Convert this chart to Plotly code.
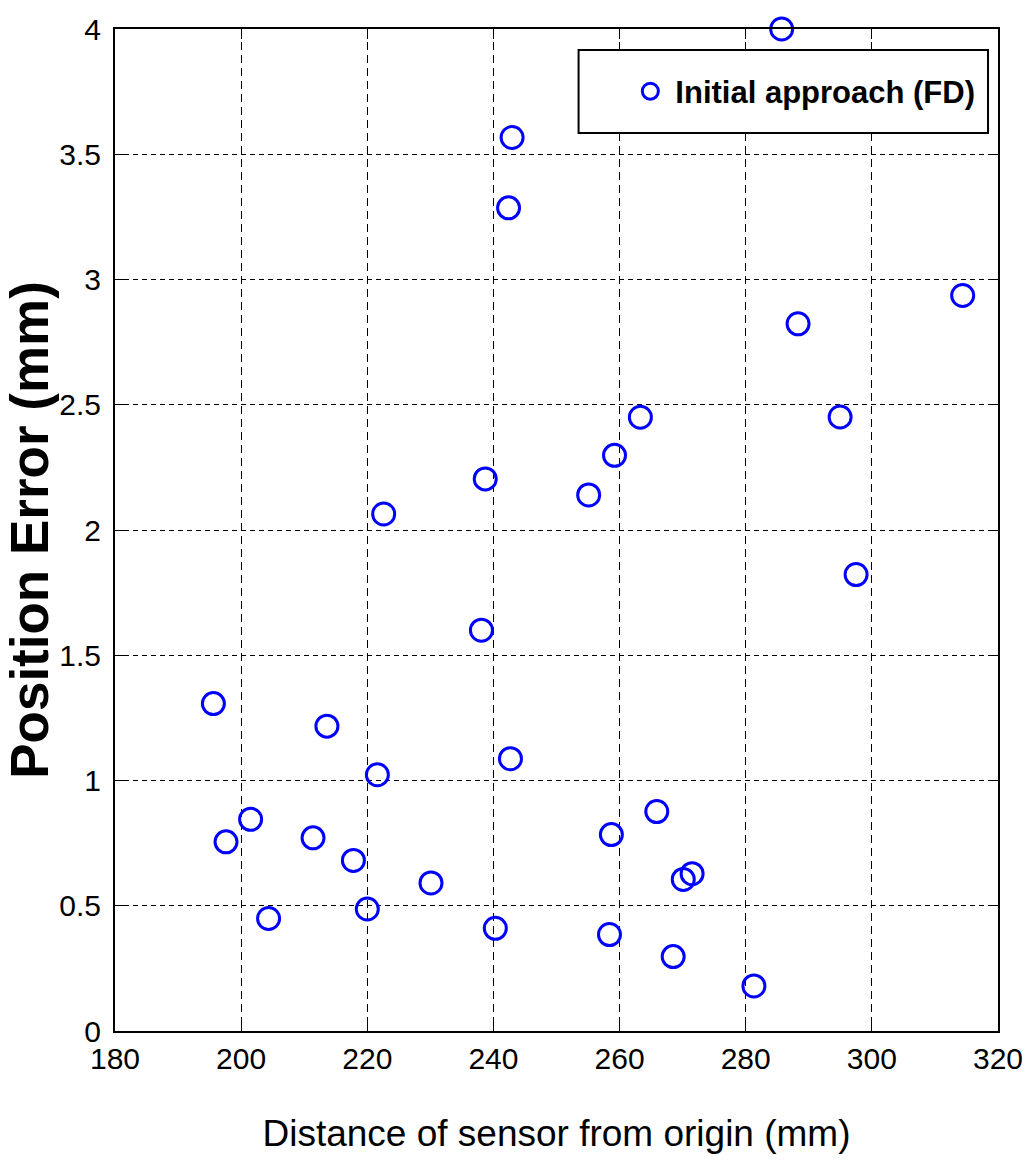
import plotly.graph_objects as go

distance_mm = [195.6, 197.6, 201.5, 204.35, 211.4, 213.6, 217.8, 220.0, 221.6, 222.6,
               230.1, 238.1, 238.7, 240.3, 242.4, 242.7, 242.96, 255.1, 258.4, 258.7,
               259.2, 263.3, 265.9, 268.5, 270.1, 271.5, 281.3, 285.7, 288.3, 294.97,
               297.5, 314.4]
position_error_mm = [1.307, 0.755, 0.845, 0.449, 0.771, 1.217, 0.681, 0.487, 1.023, 2.064,
                     0.591, 1.60, 2.204, 0.410, 3.286, 1.087, 3.567, 2.14, 0.385, 0.784,
                     2.298, 2.45, 0.876, 0.297, 0.605, 0.628, 0.18, 4.0, 2.823, 2.451,
                     1.822, 2.936]
series_name = "Initial approach (FD)"
x_ticks = [180, 200, 220, 240, 260, 280, 300, 320]
y_ticks = [0, 0.5, 1, 1.5, 2, 2.5, 3, 3.5, 4]
y_tick_labels = ["0", "0.5", "1", "1.5", "2", "2.5", "3", "3.5", "4"]

font = "Liberation Sans, Arial, sans-serif"

fig = go.Figure()
fig.add_trace(go.Scatter(
    x=distance_mm, y=position_error_mm, mode="markers", name=series_name,
    marker=dict(symbol="circle-open", size=22, color="#0000ff",
                line=dict(width=3, color="#0000ff")),
    cliponaxis=False,
))

# legend frame (paper coordinates)
fig.add_shape(type="rect", xref="paper", yref="paper",
              x0=0.525, x1=0.9887, y0=0.8962, y1=0.979,
              line=dict(color="black", width=2), fillcolor="white", layer="above")

fig.update_layout(
    width=1032, height=1174,
    margin=dict(l=115, r=34, t=29, b=143, autoexpand=False),
    paper_bgcolor="white", plot_bgcolor="white",
    showlegend=True,
    legend=dict(x=0.98, y=0.9376, xanchor="right", yanchor="middle",
                bgcolor="rgba(0,0,0,0)", borderwidth=0,
                font=dict(family=font, size=31, color="black", weight="bold"),
                itemwidth=40),
)

fig.update_xaxes(
    range=[180, 320], tickvals=x_ticks, ticktext=[str(v) for v in x_ticks],
    automargin=False,
    showline=True, linecolor="black", linewidth=2, mirror="ticks",
    ticks="inside", ticklen=10, tickwidth=1, tickcolor="black",
    showgrid=True, gridcolor="black", gridwidth=1, griddash="8px,5px",
    zeroline=False,
    tickfont=dict(family=font, size=30, color="black"),
    ticklabelstandoff=0, ticklabeloverflow="allow",
    title=dict(text="Distance of sensor from origin (mm)",
               font=dict(family=font, size=37, color="black"), standoff=46),
)
fig.update_yaxes(
    range=[0, 4], tickvals=y_ticks, ticktext=y_tick_labels,
    automargin=False,
    showline=True, linecolor="black", linewidth=2, mirror="ticks",
    ticks="inside", ticklen=10, tickwidth=1, tickcolor="black",
    showgrid=True, gridcolor="black", gridwidth=1, griddash="5px,4px",
    zeroline=False,
    tickfont=dict(family=font, size=30, color="black"),
    ticklabelstandoff=6, ticklabeloverflow="allow",
    title=dict(text="Position Error (mm)",
               font=dict(family=font, size=53, color="black", weight="bold"),
               standoff=4),
)

fig.write_html("out.html",
               config={"displayModeBar": False},
               post_script="document.body.style.margin='0';document.body.style.overflow='hidden';")
